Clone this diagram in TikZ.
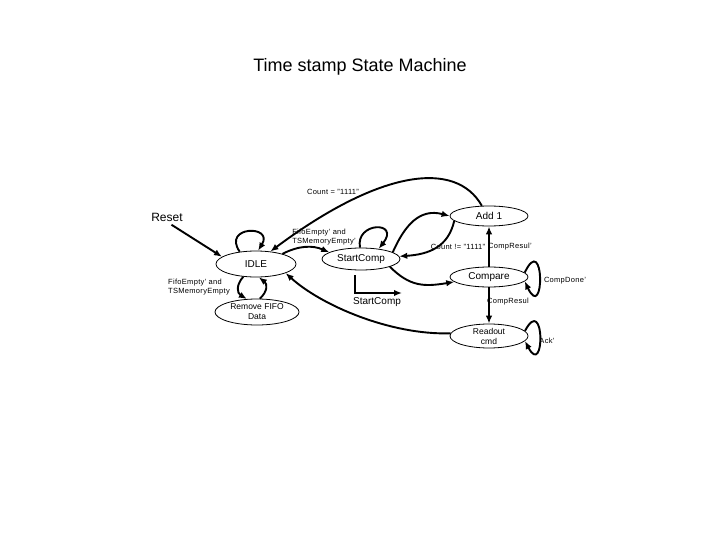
\documentclass[tikz,border=0pt]{standalone}
\usepackage{fontspec}
\setmainfont{Liberation Sans}
\usepackage{tikz}
\usetikzlibrary{arrows.meta, shapes.geometric, calc}

\newcommand{\lblsize}{\fontsize{7.5}{9}\selectfont\addfontfeature{LetterSpace=4}}

\begin{document}
\begin{tikzpicture}[
    x=1pt, y=-1pt,
    font=\fontsize{10}{12}\selectfont,
    fsm/.style={draw, ellipse, line width=0.8pt, inner sep=0pt, align=center},
    line/.style={-{Latex[length=8pt,width=6.5pt]}, line width=1.9pt},
    lbl/.style={font=\lblsize, inner sep=1pt, align=left}
]
\useasboundingbox (0,0) rectangle (720,540);

\node[font=\fontsize{18}{20}\selectfont] (title) at (360,67) {Time stamp State Machine};

\node[fsm, minimum width=80pt, minimum height=26pt] (idle) at (256,264) {IDLE};
\node[fsm, minimum width=84pt, minimum height=26pt, font=\fontsize{8.5}{10}\selectfont] (remove) at (257,312) {Remove FIFO\\Data};
\node[fsm, minimum width=78pt, minimum height=22pt] (start) at (361,259) {StartComp};
\node[fsm, minimum width=78pt, minimum height=20pt] (add) at (489,216) {Add 1};
\node[fsm, minimum width=78pt, minimum height=20pt] (compare) at (489,277) {Compare};
\node[fsm, minimum width=78pt, minimum height=24pt, font=\fontsize{8.5}{10}\selectfont] (readout) at (489,336) {Readout\\cmd};

\node[font=\fontsize{12}{14}\selectfont] (reset) at (167,217) {Reset};
\node[lbl] (cnteq) at (333,192) {Count = "1111"};
\node[lbl] (fifoa) at (324,237) {FifoEmpty' and\\TSMemoryEmpty'};
\node[lbl] (fifob) at (199,287) {FifoEmpty' and\\TSMemoryEmpty};
\node (scout) at (377,302) {StartComp};
\node[lbl] (cntne) at (458,247) {Count != "1111"};
\node[lbl] (cresa) at (510,247) {CompResul'};
\node[lbl] (cresb) at (508,302) {CompResul};
\node[lbl] (cdone) at (565,281) {CompDone'};
\node[lbl] (ack) at (547,341) {Ack'};

\coordinate (outa) at (355,275);
\coordinate (outb) at (402,293);

\draw[line] (reset.-60) -- (idle.168);
\draw[line] (idle.143) .. controls +(-18,-26) and +(16,-26) .. (idle.81);
\draw[line] (idle.225) to[bend right=50, looseness=1.3] (remove.128);
\draw[line] (remove.78) to[bend right=50, looseness=1.3] (idle.-78);
\draw[line] (add.125) .. controls +(-26,-46) and +(110,-82) .. (idle.41);
\draw[line] (idle.21) to[bend left=25] (start.168);
\draw[line] (start.95) .. controls +(-5,-26) and +(22,-28) .. (start.30);
\draw[line] (start.12) .. controls +(12,-27) and +(-30,-8) .. (add.180);
\draw[line] (add.188) .. controls +(-6,26) and +(30,-2) .. (start.4);
\draw[line] (start.-15) .. controls +(20,20) and +(-30,5) .. (compare.188);
\draw[line] (compare) -- (add);
\draw[line] (compare) -- (readout);
\draw[line] (compare.7) .. controls +(20,-42) and +(20,42) .. (compare.-7);
\draw[line] (readout.8) .. controls +(20,-38) and +(20,38) .. (readout.-8);
\draw[line] (readout.176) .. controls +(-60,2) and +(35,32) .. (idle.-17);
\draw[line] (outa) |- (outb);
\end{tikzpicture}
\end{document}
